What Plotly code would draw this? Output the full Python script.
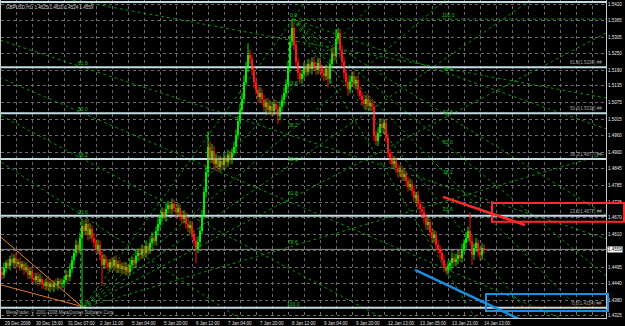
import plotly.graph_objects as go

# ---------------- data ----------------
first_open = 1.4480
closes = [
 1.4468,1.4495,1.4510,1.4502,1.4525,1.4512,1.4530,1.4508,1.4515,1.4498,
 1.4506,1.4488,1.4495,1.4470,1.4482,1.4460,1.4452,1.4465,1.4445,1.4455,
 1.4438,1.4430,1.4445,1.4425,1.4436,1.4428,1.4440,1.4432,1.4447,1.4438,
 1.4440,1.4452,1.4470,1.4462,1.4490,1.4520,1.4545,1.4575,1.4560,1.4600,
 1.4640,1.4625,1.4648,1.4610,1.4630,1.4600,1.4585,1.4560,1.4575,1.4540,
 1.4505,1.4525,1.4510,1.4498,1.4515,1.4502,1.4520,1.4495,1.4508,1.4490,
 1.4500,1.4485,1.4498,1.4480,1.4505,1.4520,1.4510,1.4535,1.4548,1.4540,
 1.4560,1.4545,1.4570,1.4555,1.4580,1.4600,1.4590,1.4625,1.4650,1.4670,
 1.4690,1.4675,1.4700,1.4715,1.4700,1.4720,1.4705,1.4690,1.4705,1.4680,
 1.4665,1.4680,1.4650,1.4635,1.4645,1.4610,1.4590,1.4560,1.4585,1.4625,
 1.4680,1.4760,1.4830,1.4920,1.4880,1.4905,1.4860,1.4875,1.4850,1.4870,
 1.4855,1.4880,1.4865,1.4890,1.4875,1.4900,1.4920,1.4960,1.5010,1.5050,
 1.5090,1.5150,1.5200,1.5245,1.5230,1.5190,1.5150,1.5120,1.5095,1.5110,
 1.5085,1.5060,1.5075,1.5050,1.5065,1.5045,1.5070,1.5055,1.5030,1.5060,
 1.5085,1.5110,1.5140,1.5200,1.5290,1.5340,1.5280,1.5220,1.5180,1.5160,
 1.5175,1.5200,1.5185,1.5210,1.5195,1.5220,1.5205,1.5190,1.5215,1.5195,
 1.5180,1.5170,1.5195,1.5160,1.5210,1.5250,1.5240,1.5300,1.5320,1.5260,
 1.5220,1.5180,1.5150,1.5125,1.5150,1.5170,1.5140,1.5155,1.5120,1.5100,
 1.5085,1.5070,1.5090,1.5065,1.5075,1.5060,1.4960,1.4940,1.4970,1.5000,
 1.4985,1.5005,1.4950,1.4900,1.4880,1.4860,1.4870,1.4845,1.4830,1.4840,
 1.4815,1.4825,1.4800,1.4780,1.4790,1.4765,1.4740,1.4750,1.4720,1.4700,
 1.4690,1.4670,1.4645,1.4655,1.4620,1.4600,1.4610,1.4575,1.4560,1.4545,
 1.4520,1.4495,1.4485,1.4500,1.4510,1.4530,1.4515,1.4525,1.4540,1.4530,
 1.4560,1.4580,1.4600,1.4625,1.4590,1.4540,1.4565,1.4580,1.4550,1.4540,
 1.4565,1.4559]
upper_wick_pips = [
 14,18,10,16,12,20,11,17,10,15, 13,11,18,10,15,12,17,11,14,18, 10,15,12,18,11,14,10,17,12,11,
 15,12,18,14,20,16,15,19,14,18, 28,20,18,15,21,14,16,12,18,15, 14,18,12,15,11,17,14,18,12,15,
 12,17,14,11,18,15,12,19,14,17, 15,12,18,14,17,19,12,15,18,14, 17,14,19,15,12,18,15,14,17,12,
 15,18,12,17,14,15,18,12,20,15, 18,20,22,55,20,25,18,22,15,18, 15,18,14,20,17,15,18,20,19,22,
 20,22,20,40,18,15,17,14,18,20, 15,18,14,17,19,12,18,15,14,18, 17,20,18,22,24,30,18,15,14,17,
 15,18,14,20,17,15,18,14,19,17, 14,18,15,12,20,18,22,35,18,15, 18,15,14,17,19,15,18,14,17,12,
 15,18,12,17,14,15,12,18,20,20, 18,15,14,17,12,15,18,14,17,15, 14,17,12,15,18,14,17,12,15,14,
 18,15,14,17,12,15,18,14,17,15, 15,18,14,17,12,19,15,18,14,17, 18,15,20,15,65,18,15,20,14,17,
 15,12]
lower_wick_pips = [
 15,11,18,12,17,10,14,19,12,15, 12,18,11,15,14,19,12,17,15,11, 18,12,15,11,17,14,19,12,15,14,
 14,17,12,18,15,14,17,12,18,15, 245,18,15,20,14,17,19,15,18,20, 75,15,18,14,17,12,18,15,19,14,
 17,14,18,15,12,19,14,17,15,18, 14,18,15,17,12,15,18,14,17,15, 15,12,18,14,17,15,12,18,14,19,
 18,14,17,15,19,14,18,50,15,18, 12,15,18,14,20,17,22,15,18,17, 18,15,19,14,17,15,12,18,15,14,
 15,18,14,17,20,18,22,15,19,17, 18,15,19,14,17,20,15,18,30,17, 15,18,14,17,19,15,20,18,22,17,
 18,15,19,14,17,20,15,18,14,19, 17,19,15,30,18,14,20,15,18,22, 18,20,15,25,17,19,14,18,20,15,
 18,15,19,14,17,15,20,15,18,15, 17,19,15,18,20,15,18,17,19,15, 18,15,19,17,14,18,15,20,17,18,
 15,19,17,18,15,20,17,18,15,19, 18,15,13,17,14,18,15,17,19,15, 17,14,18,15,17,35,18,15,17,20,
 18,15]

y_tick_values = [1.5420,1.5365,1.5305,1.5250,1.5190,1.5135,1.5075,1.5015,1.4960,1.4900,
                 1.4845,1.4785,1.4725,1.4670,1.4610,1.4555,1.4495,1.4440,1.4380,1.4325]
y_tick_labels = ['1.5420','1.5365','1.5305','1.5250','1.5190','1.5135','1.5075','1.5015','1.4960','1.4900',
                 '1.4845','1.4785','1.4725','1.4670','1.4610','','1.4495','1.4440','1.4380','1.4325']
x_label_bars = [-0.5,15,31,47,63,79,95,111,127,143,159,175,191,207,223,239]
x_labels = ['29 Dec 2008','30 Dec 15:00','31 Dec 07:00','2 Jan 11:00','5 Jan 04:00','5 Jan 20:00',
            '6 Jan 12:00','7 Jan 04:00','7 Jan 20:00','8 Jan 12:00','9 Jan 04:00','9 Jan 20:00',
            '12 Jan 13:00','13 Jan 05:00','13 Jan 21:00','14 Jan 13:00']

# Fibonacci retracement (low -> high)
retr_low, retr_high = 1.4354, 1.5723
retr_levels = [0.0, 0.236, 0.382, 0.5, 0.618, 0.786]
# Fibonacci fans: anchor points (bar index, price)
fan_levels = [0.0, 0.236, 0.382, 0.5, 0.618, 0.786, 1.0]
fans = [((-186, 1.5723), (40.5, 1.4354)),
        ((40.5, 1.4354), (145.5, 1.5370)),
        ((145.5, 1.5370), (223, 1.4475))]
# other drawn objects (bar index, price)
orange_lines = [((-0.5, 1.4434), (40.5, 1.4357))]
red_line = ((220.5, 1.4744), (261.5, 1.4645))
red_box = ((245, 1.4722), (311, 1.4656))
blue_line = ((206.5, 1.4487), (261.5, 1.4304))
blue_box = ((242, 1.4402), (303, 1.4342))
last_price = 1.4559

# ---------------- figure ----------------
XMIN, XMAX = -0.5, 302
YMIN, YMAX = 1.43175, 1.5437

opens = [first_open] + closes[:-1]
highs = [max(o, c) + u / 10000 for o, c, u in zip(opens, closes, upper_wick_pips)]
lows = [min(o, c) - l / 10000 for o, c, l in zip(opens, closes, lower_wick_pips)]
xs = list(range(len(closes)))

GREEN = '#00ec00'
RED = '#ff1414'
FANCOL = '#0d8f0d'
FONT = 'Liberation Sans'

fig = go.Figure()

# fans
ann = []
for (b1, p1), (b2, p2) in fans:
    for L in fan_levels:
        pl = p2 + L * (p1 - p2)
        m = (pl - p1) / (b2 - b1)
        fig.add_trace(go.Scatter(x=[b1, XMAX], y=[p1, p1 + m * (XMAX - b1)], mode='lines',
                                 line=dict(color=FANCOL, width=1, dash='dot'),
                                 hoverinfo='skip', showlegend=False))
        if YMIN + 0.001 < pl < YMAX - 0.002:
            ann.append(dict(x=b2, y=pl, xref='x', yref='y', text=f'{L*100:.1f}', showarrow=False,
                            yshift=4, font=dict(size=5, color='#22c022', family=FONT)))

# fan A base line (orange) and second orange line
(b1, p1), (b2, p2) = fans[0]
fig.add_trace(go.Scatter(x=[b1, b2], y=[p1, p2], mode='lines', line=dict(color='#e8741c', width=1),
                         hoverinfo='skip', showlegend=False))
for (a, b) in orange_lines:
    fig.add_trace(go.Scatter(x=[a[0], b[0]], y=[a[1], b[1]], mode='lines',
                             line=dict(color='#e8741c', width=1), hoverinfo='skip', showlegend=False))

# retracement horizontal lines
for L in retr_levels:
    pl = retr_low + L * (retr_high - retr_low)
    fig.add_trace(go.Scatter(x=[XMIN, XMAX], y=[pl, pl], mode='lines',
                             line=dict(color='#c4dce4', width=2), hoverinfo='skip', showlegend=False))
    if pl < YMAX - 0.002:
        ann.append(dict(x=1, y=pl, xref='paper', yref='y', xanchor='right', yanchor='bottom',
                        text=f'{L*100:.1f}({pl:.4f}) ##', showarrow=False, xshift=-2, yshift=0,
                        font=dict(size=4.5, color='#a8a8a8', family=FONT)))

# bid line
fig.add_trace(go.Scatter(x=[XMIN, XMAX], y=[last_price, last_price], mode='lines',
                         line=dict(color='#8a8a8a', width=1), hoverinfo='skip', showlegend=False))

# candles: wicks + bodies
for bull, col in [(True, GREEN), (False, RED)]:
    wx, wy, bx, bb, bh = [], [], [], [], []
    for i, o, h, l, c in zip(xs, opens, highs, lows, closes):
        if (c >= o) != bull:
            continue
        wx += [i, i, None]
        wy += [l, h, None]
        bx.append(i)
        bb.append(min(o, c))
        bh.append(max(abs(c - o), 0.00012))
    fig.add_trace(go.Scatter(x=wx, y=wy, mode='lines', line=dict(color=col, width=1),
                             hoverinfo='skip', showlegend=False))
    fig.add_trace(go.Bar(x=bx, y=bh, base=bb, width=0.7, marker=dict(color=col, line=dict(width=0)),
                         hoverinfo='skip', showlegend=False))

# trend lines
for (a, b), col in [(red_line, '#ff2a2a'), (blue_line, '#1c8ee0')]:
    fig.add_trace(go.Scatter(x=[a[0], b[0]], y=[a[1], b[1]], mode='lines',
                             line=dict(color=col, width=2.5), hoverinfo='skip', showlegend=False))

def px(b):
    return (b - XMIN) / (XMAX - XMIN)

def py(p):
    return (p - YMIN) / (YMAX - YMIN)

shapes = []
for (a, b), col in [(red_box, '#ff2a2a'), (blue_box, '#1c8ee0')]:
    shapes.append(dict(type='rect', xref='paper', yref='paper', x0=px(a[0]), x1=px(b[0]),
                       y0=py(a[1]), y1=py(b[1]), line=dict(color=col, width=2)))

# x labels
for b, t in zip(x_label_bars, x_labels):
    ann.append(dict(x=b, y=0, xref='x', yref='paper', xanchor='left', yanchor='top', text=t,
                    showarrow=False, xshift=1.5, yshift=-0.5,
                    font=dict(size=4.5, color='#e0e0e0', family=FONT)))

# current price box
ann.append(dict(x=1, y=last_price, xref='paper', yref='y', xanchor='left', text=f'{last_price:.4f}',
                showarrow=False, bgcolor='#ffffff', borderpad=0, xshift=1,
                font=dict(size=4.5, color='#000000', family=FONT)))
# header & copyright
ann.append(dict(x=0, y=1, xref='paper', yref='paper', xanchor='left', yanchor='top',
                text='GBPUSD,H1  1.4625 1.4620 1.4524 1.4559', showarrow=False, xshift=3, yshift=-3,
                font=dict(size=4.5, color='#d8d8d8', family=FONT)))
ann.append(dict(x=0, y=0, xref='paper', yref='paper', xanchor='left', yanchor='bottom',
                text='MetaTrader, © 2001-2008 MetaQuotes Software Corp.', showarrow=False, xshift=3, yshift=1,
                font=dict(size=4.5, color='#b0b0b0', family=FONT)))

fig.update_layout(
    width=625, height=326, margin=dict(l=1, r=19, t=0, b=8),
    paper_bgcolor='#000000', plot_bgcolor='#000000', barmode='overlay', bargap=0,
    showlegend=False, annotations=ann, shapes=shapes,
    xaxis=dict(range=[XMIN, XMAX],
               tickvals=[8 * k - 1 for k in range(1, 39)], showticklabels=False, ticks='',
               showgrid=True, gridcolor='#6a6a6a', griddash='dot', gridwidth=1,
               zeroline=False, showline=True, linecolor='#c8c8c8', mirror=True, linewidth=1),
    yaxis=dict(range=[YMIN, YMAX], side='right', tickvals=y_tick_values, ticktext=y_tick_labels,
               tickfont=dict(size=4.5, color='#e8e8e8', family=FONT), ticks='',
               showgrid=True, gridcolor='#6a6a6a', griddash='dot', gridwidth=1,
               zeroline=False, showline=True, linecolor='#c8c8c8', mirror=True, linewidth=1),
)

fig.write_html('out.html')
